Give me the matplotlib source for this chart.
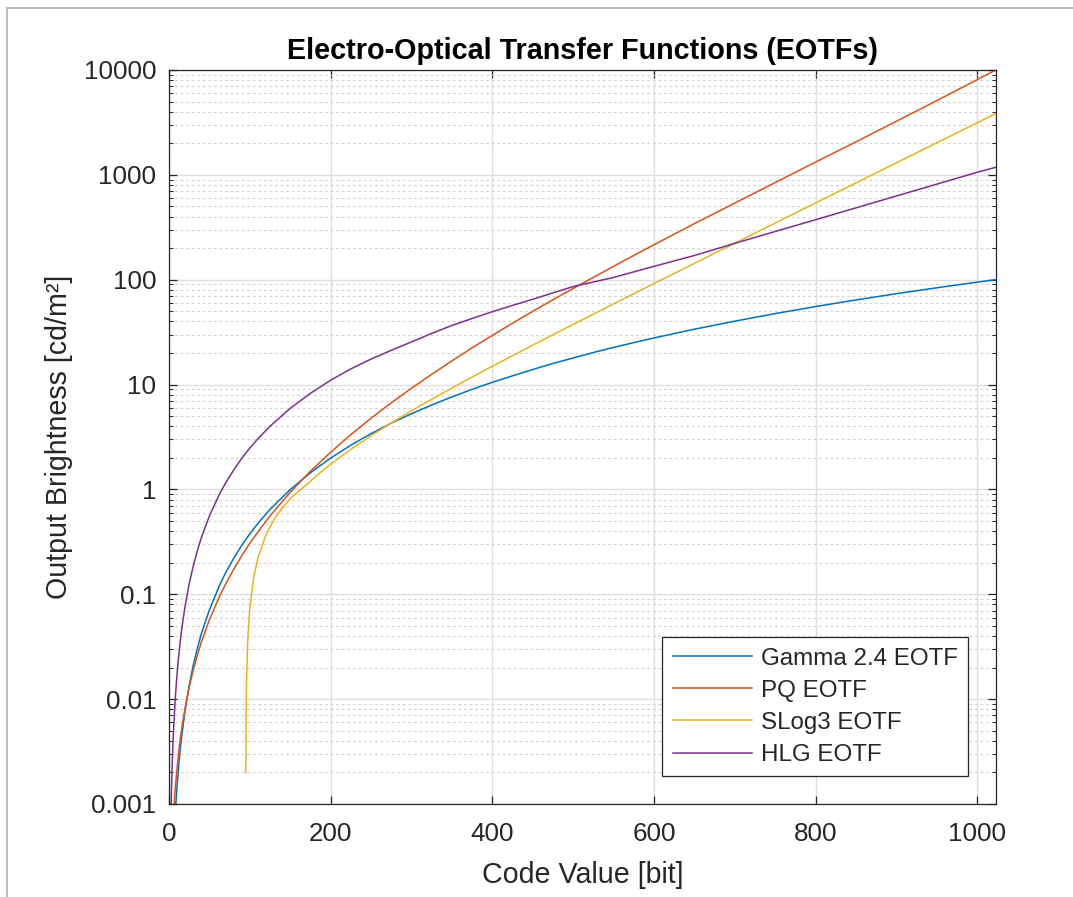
import matplotlib
matplotlib.use("Agg")
import matplotlib.pyplot as plt
from matplotlib.lines import Line2D
from matplotlib.ticker import LogLocator, NullFormatter

plt.rcParams['font.family'] = ['Liberation Sans', 'DejaVu Sans']

code = [2, 3, 4, 5, 6, 8, 10, 12, 14, 16, 20, 25, 30, 35, 40, 50, 63, 70, 80, 90,
        100, 110, 125, 150, 175, 200, 225, 250, 275, 300, 325, 350, 375, 400,
        425, 450, 475, 500, 525, 550, 575, 600, 650, 700, 750, 800, 850, 900,
        950, 1000, 1023]

gamma24 = [3.2e-5, 8.4e-5, 1.7e-4, 2.9e-4, 4.4e-4, 8.8e-4, 0.0015, 0.0023, 0.0034,
           0.0046, 0.0079, 0.0135, 0.021, 0.0303, 0.042, 0.071, 0.124, 0.16, 0.22,
           0.293, 0.377, 0.474, 0.644, 0.997, 1.44, 1.99, 2.64, 3.4, 4.28, 5.27,
           6.38, 7.62, 9.0, 10.5, 12.1, 13.9, 15.9, 17.9, 20.2, 22.6, 25.1, 27.8,
           33.7, 40.2, 47.5, 55.4, 64.1, 73.5, 83.7, 94.7, 100]

pq = [1.3e-4, 2.6e-4, 4.3e-4, 6.4e-4, 8.8e-4, 0.00148, 0.0022, 0.00312, 0.0042,
      0.0054, 0.0083, 0.013, 0.0189, 0.0261, 0.0349, 0.0571, 0.0973, 0.125, 0.173,
      0.233, 0.306, 0.393, 0.558, 0.939, 1.49, 2.26, 3.33, 4.77, 6.69, 9.22,
      12.5, 16.8, 22.4, 29.4, 38.4, 49.9, 64.3, 82.5, 105, 134, 170, 215,
      342, 537, 843, 1323, 2062, 3240, 5100, 8077, 10000]

hlg = [5.5e-4, 0.00132, 0.00245, 0.00395, 0.00585, 0.0109, 0.0175, 0.026, 0.0362,
       0.0482, 0.0779, 0.126, 0.186, 0.259, 0.346, 0.559, 0.918, 1.15, 1.53,
       1.98, 2.48, 3.04, 4.0, 5.93, 8.25, 11, 14.1, 17.5, 21.2, 25.5, 30.7,
       36.6, 42.6, 49.5, 56.8, 65, 74.8, 86, 95, 105, 118.6, 134,
       170, 222, 288, 373, 484, 628, 815, 1057, 1180]

# S-Log3 starts at code 95
code_slog = [95, 95.2, 95.5, 96, 97, 98, 100, 105, 110, 120, 130, 140, 150, 160,
             171, 175, 180, 190, 200, 225, 250, 275, 300, 325, 350, 375, 400, 450,
             500, 550, 600, 650, 700, 750, 800, 850, 900, 950, 1000, 1023]
slog3 = [0.002, 0.003, 0.0074, 0.0148, 0.0295, 0.0443, 0.0738, 0.148, 0.221, 0.369,
         0.517, 0.664, 0.812, 0.96, 1.122, 1.197, 1.296, 1.508, 1.74, 2.41, 3.25,
         4.30, 5.61, 7.23, 9.26, 11.78, 14.93, 23.74, 37.43, 58.68, 91.69, 143,
         222.6, 346.3, 538.3, 836.7, 1300, 2020, 3137, 3842]

xticks = [0, 200, 400, 600, 800, 1000]
yticks = [0.001, 0.01, 0.1, 1, 10, 100, 1000, 10000]
ytick_labels = ['0.001', '0.01', '0.1', '1', '10', '100', '1000', '10000']

dark = '#262626'

fig = plt.figure(figsize=(10.73, 8.97), dpi=100)
ax = fig.add_axes([0.1575, 0.1037, 0.7705, 0.8183])

ax.plot(code, gamma24, color='#0072BD', lw=1.1, label='Gamma 2.4 EOTF')
ax.plot(code, pq, color='#D95319', lw=1.1, label='PQ EOTF')
ax.plot(code_slog, slog3, color='#EDB120', lw=1.1, label='SLog3 EOTF')
ax.plot(code, hlg, color='#7E2F8E', lw=1.1, label='HLG EOTF')

ax.set_yscale('log')
ax.set_xlim(0, 1023)
ax.set_ylim(0.001, 10000)
ax.set_xticks(xticks)
ax.set_yticks(yticks)
ax.set_yticklabels(ytick_labels)
ax.yaxis.set_minor_locator(LogLocator(base=10, subs=range(2, 10), numticks=20))
ax.yaxis.set_minor_formatter(NullFormatter())

ax.grid(True, which='major', color='#DFDFDF', lw=1.0)
ax.yaxis.grid(True, which='minor', color='#D2D2D2', lw=0.8, linestyle=(0, (2.5, 2.5)))
ax.set_axisbelow(True)

ax.tick_params(which='both', direction='in', top=True, right=True, colors=dark,
               labelsize=18.7)
ax.tick_params(axis='x', pad=13)
ax.tick_params(axis='y', pad=9)
ax.tick_params(which='major', length=5.8, width=0.9)
ax.tick_params(which='minor', length=2.9, width=0.7)
for s in ax.spines.values():
    s.set_color(dark)
    s.set_linewidth(0.9)

ax.set_title('Electro-Optical Transfer Functions (EOTFs)', fontsize=20.7,
             fontweight='bold', color='black', pad=8)
ax.set_xlabel('Code Value [bit]', fontsize=20.6, color=dark, labelpad=11)
ax.set_ylabel('Output Brightness [cd/m²]', fontsize=20.6, color=dark, labelpad=8)

leg = ax.legend(loc='lower right', fontsize=17.4, frameon=True, fancybox=False,
                edgecolor=dark, framealpha=1, borderaxespad=1.15, handlelength=3.3,
                handletextpad=0.35, labelspacing=0.42, borderpad=0.42)
leg.get_frame().set_linewidth(0.9)
for t in leg.get_texts():
    t.set_color(dark)

# thin grey frame round the figure (left and top edge)
fig.add_artist(Line2D([0.0065, 0.0065], [0.0, 0.991], transform=fig.transFigure,
                      color='#B0B0B0', lw=1.2))
fig.add_artist(Line2D([0.0065, 1.0], [0.991, 0.991], transform=fig.transFigure,
                      color='#B0B0B0', lw=1.2))

fig.savefig('out.png', dpi=100)
